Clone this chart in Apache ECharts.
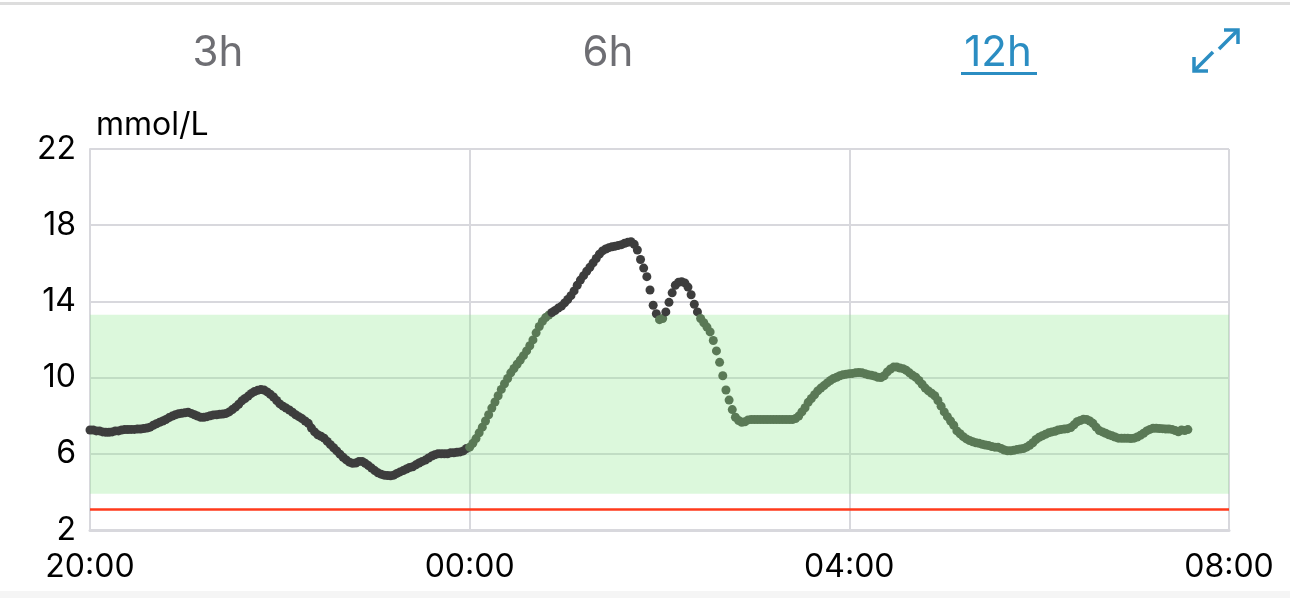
<!DOCTYPE html>
<html>
<head>
<meta charset="utf-8">
<script src="https://cdn.jsdelivr.net/npm/echarts@6/dist/echarts.min.js"></script>
<style>
  html, body { margin: 0; padding: 0; background: #ffffff; }
  #chart { width: 1290px; height: 598px; }
</style>
</head>
<body>
<div id="chart"></div>
<script>
// Glucose readings (mmol/L), one every 2 minutes, grouped per clock hour
const hourLabels = ['20','21','22','23','00','01','02','03','04','05','06','07'];
const h20 = [7.25,7.25,7.2,7.2,7.15,7.13,7.13,7.15,7.2,7.2,7.25,7.27,7.27,7.28,7.28,7.3,7.3,7.33,7.35,7.4,7.5,7.58,7.65,7.72,7.8,7.9,7.98,8.05,8.1,8.13];
const h21 = [8.15,8.18,8.12,8.05,7.98,7.92,7.92,7.95,8.0,8.04,8.05,8.07,8.09,8.12,8.2,8.32,8.45,8.6,8.78,8.9,9.03,9.17,9.27,9.33,9.37,9.35,9.25,9.12,8.98,8.8];
const h22 = [8.62,8.5,8.4,8.3,8.18,8.05,7.95,7.85,7.72,7.6,7.35,7.15,7.0,6.92,6.82,6.65,6.48,6.32,6.15,5.98,5.82,5.68,5.56,5.5,5.52,5.6,5.6,5.5,5.38,5.25];
const h23 = [5.12,5.0,4.93,4.88,4.86,4.85,4.88,4.97,5.05,5.12,5.2,5.28,5.32,5.42,5.52,5.6,5.67,5.78,5.88,5.95,6.0,6.0,6.0,6.0,6.05,6.05,6.08,6.1,6.15,6.28];
const h00 = [6.35,6.55,6.8,7.1,7.4,7.72,8.05,8.4,8.72,9.05,9.38,9.68,9.95,10.25,10.48,10.7,10.92,11.15,11.4,11.67,11.98,12.35,12.68,12.95,13.15,13.28,13.42,13.52,13.65,13.75];
const h01 = [13.92,14.1,14.3,14.55,14.85,15.12,15.35,15.58,15.79,16.02,16.25,16.48,16.65,16.75,16.82,16.87,16.9,16.94,16.98,17.05,17.1,17.13,17.0,16.7,16.2,15.75,15.3,14.6,13.8,13.35];
const h02 = [13.04,13.1,13.45,13.95,14.45,14.85,15.0,15.03,14.97,14.75,14.35,13.85,13.45,13.1,12.88,12.65,12.4,11.95,11.4,10.8,10.1,9.35,8.82,8.32,7.92,7.75,7.65,7.68,7.78,7.8];
const h03 = [7.8,7.8,7.8,7.8,7.8,7.8,7.8,7.8,7.8,7.8,7.8,7.8,7.8,7.85,7.98,8.2,8.42,8.7,8.9,9.1,9.3,9.45,9.58,9.72,9.85,9.95,10.02,10.1,10.15,10.18];
const h04 = [10.2,10.22,10.25,10.27,10.25,10.2,10.15,10.12,10.08,10.02,10.0,10.1,10.3,10.45,10.55,10.55,10.5,10.47,10.38,10.25,10.12,10.02,9.85,9.65,9.45,9.3,9.18,9.05,8.8,8.5];
const h05 = [8.2,7.95,7.72,7.5,7.2,7.05,6.9,6.78,6.7,6.63,6.58,6.55,6.5,6.46,6.43,6.38,6.35,6.34,6.28,6.2,6.16,6.16,6.18,6.22,6.25,6.28,6.35,6.45,6.58,6.75];
const h06 = [6.87,6.95,7.02,7.1,7.15,7.18,7.25,7.28,7.3,7.32,7.38,7.52,7.68,7.75,7.82,7.8,7.72,7.6,7.4,7.22,7.15,7.08,7.0,6.95,6.88,6.82,6.81,6.81,6.81,6.8];
const h07 = [6.82,6.88,6.97,7.08,7.2,7.28,7.34,7.34,7.33,7.32,7.3,7.3,7.28,7.22,7.16,7.25,7.22,7.27];
const hourSeries = [h20,h21,h22,h23,h00,h01,h02,h03,h04,h05,h06,h07];
const stepMinutes = 2;

const xTickLabels = ['20:00','00:00','04:00','08:00'];
const yTicks = [2,6,10,14,18,22];
const tabLabels = ['3h','6h','12h'];
const rangeLow = 3.9, rangeHigh = 13.3, lowAlarm = 3.1;
const unitLabel = 'mmol/L';

// build [minutesSince20:00, value] pairs
const points = [];
hourSeries.forEach((arr, h) => {
  arr.forEach((v, j) => points.push([h * 60 + j * stepMinutes, v]));
});

const DARK = '#3d3d3d', GREEN = '#5a7956', BLUE = '#2b8dc2';

const chart = echarts.init(document.getElementById('chart'), null, { renderer: 'canvas' });
chart.setOption({
  animation: false,
  backgroundColor: '#ffffff',
  grid: { left: 90, right: 61, top: 149, bottom: 68 },
  xAxis: {
    type: 'value', min: 0, max: 720, interval: 240,
    axisLine: { show: true, lineStyle: { color: '#d8d8dd', width: 3 } },
    axisTick: { show: false },
    axisLabel: {
      color: '#000', fontSize: 32, fontFamily: 'Inter', margin: 21,
      formatter: v => xTickLabels[Math.round(v / 240)]
    },
    splitLine: { show: true, lineStyle: { color: '#d8d8dd', width: 2 } }
  },
  yAxis: {
    type: 'value', min: yTicks[0], max: yTicks[yTicks.length - 1], interval: 4,
    axisLine: { show: true, lineStyle: { color: '#d8d8dd', width: 2 } },
    axisTick: { show: false },
    axisLabel: { color: '#000', fontSize: 32, fontFamily: 'Inter', margin: 14 },
    splitLine: { show: true, lineStyle: { color: '#d8d8dd', width: 2 } }
  },
  series: [{
    type: 'scatter',
    data: points,
    symbolSize: 9,
    itemStyle: {
      opacity: 1,
      color: p => (p.data[0] < 240 || p.data[1] > rangeHigh) ? DARK : GREEN
    },
    markArea: {
      silent: true,
      itemStyle: { color: 'rgba(140,232,140,0.30)' },
      data: [[{ yAxis: rangeLow }, { yAxis: rangeHigh }]]
    },
    markLine: {
      silent: true, symbol: 'none', label: { show: false },
      lineStyle: { color: '#ff3a1c', width: 2.5, type: 'solid' },
      data: [{ yAxis: lowAlarm }]
    },
    z: 3
  }],
  graphic: [
    { type: 'rect', left: 0, top: 2, shape: { width: 1290, height: 3 }, style: { fill: '#dddddd' }, silent: true },
    { type: 'rect', left: 0, top: 591, shape: { width: 1290, height: 7 }, style: { fill: '#f5f5f5' }, silent: true },
    { type: 'text', x: 218, y: 53, style: { text: tabLabels[0], fill: '#6e6e73', font: '42px Inter', align: 'center', verticalAlign: 'middle' } },
    { type: 'text', x: 608, y: 53, style: { text: tabLabels[1], fill: '#6e6e73', font: '42px Inter', align: 'center', verticalAlign: 'middle' } },
    { type: 'text', x: 998, y: 53, style: { text: tabLabels[2], fill: BLUE, font: '42px Inter', align: 'center', verticalAlign: 'middle' } },
    { type: 'rect', left: 961, top: 72, shape: { width: 76, height: 3 }, style: { fill: BLUE } },
    // expand icon
    { type: 'polyline', shape: { points: [[1224, 30], [1238, 30], [1238, 44]] }, style: { stroke: BLUE, lineWidth: 3.5, fill: null } },
    { type: 'line', shape: { x1: 1237, y1: 31, x2: 1219, y2: 49 }, style: { stroke: BLUE, lineWidth: 3.5 } },
    { type: 'polyline', shape: { points: [[1194, 57], [1194, 71], [1208, 71]] }, style: { stroke: BLUE, lineWidth: 3.5, fill: null } },
    { type: 'line', shape: { x1: 1195, y1: 70, x2: 1213, y2: 52 }, style: { stroke: BLUE, lineWidth: 3.5 } },
    { type: 'text', x: 96, y: 125, style: { text: unitLabel, fill: '#000', font: '32px Inter', align: 'left', verticalAlign: 'middle' } }
  ]
});
</script>
</body>
</html>
